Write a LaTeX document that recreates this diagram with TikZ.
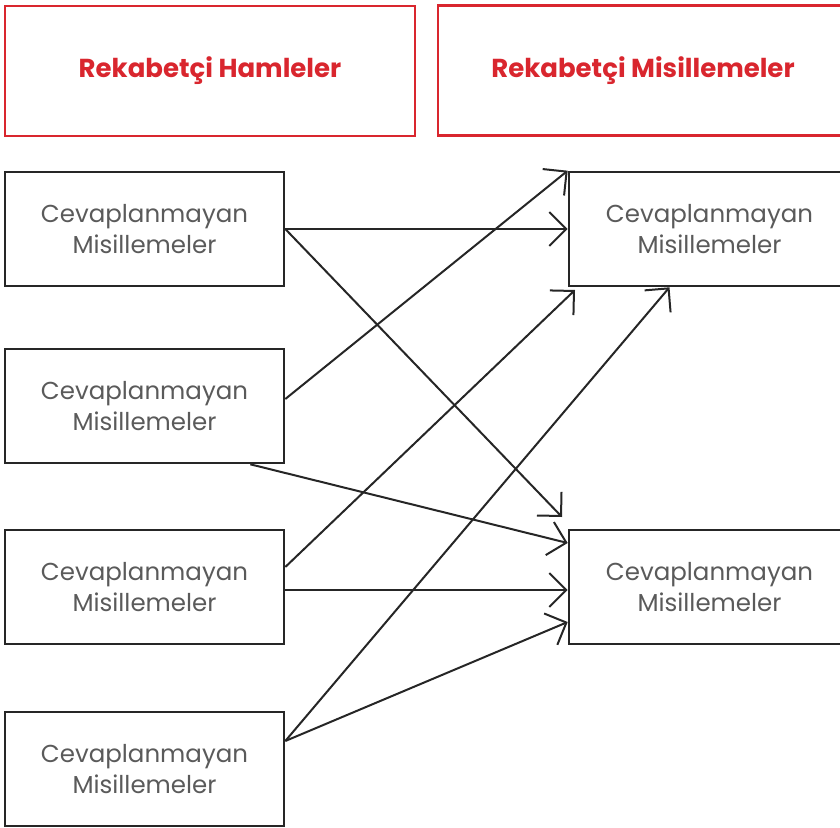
\documentclass[tikz,border=0pt]{standalone}
\usepackage{fontspec}
\setmainfont{Poppins}
\usetikzlibrary{arrows.meta}

\definecolor{hdred}{HTML}{D9262E}
\definecolor{txtgray}{HTML}{5A5A5A}

\tikzset{
  head/.style={draw=hdred, line width=2.6pt, minimum width=410pt, minimum height=130pt,
    text=hdred, font=\fontsize{26}{30}\selectfont\bfseries},
  move/.style={draw=black!85, line width=2.6pt, minimum width=279pt, minimum height=114pt,
    text=txtgray, align=center, font=\fontsize{24.5}{31}\selectfont},
  reply/.style={move, minimum width=281pt},
  link/.style={line width=2pt, black!85, -{Straight Barb[length=17pt,width=34pt,line width=2pt]}}
}

\begin{document}
\begin{tikzpicture}[x=1pt, y=-1pt]
  \useasboundingbox (0,0) rectangle (840,827);
  % basliklar
  \node[head] (hamle) at (210,71) {Rekabetçi Hamleler};
  \node[head] (misilleme) at (643,70.5) {Rekabetçi Misillemeler};
  % sol sutun
  \node[move] (one) at (144.5,229) {Cevaplanmayan\\Misillemeler};
  \node[move] (two) at (144.5,406) {Cevaplanmayan\\Misillemeler};
  \node[move] (three) at (144.5,587) {Cevaplanmayan\\Misillemeler};
  \node[move] (four) at (144.5,769) {Cevaplanmayan\\Misillemeler};
  % sag sutun
  \node[reply] (top) at (709.5,229) {Cevaplanmayan\\Misillemeler};
  \node[reply] (bottom) at (709.5,587) {Cevaplanmayan\\Misillemeler};
  \coordinate (short) at (562,517);
  \coordinate (corner) at (575,290);
  \draw[link] (one.east) -- (top.west);
  \draw[link] (one.east) -- (short);
  \draw[link] ([yshift=7pt]two.east) -- (top.north west);
  \draw[link] ([xshift=-35pt]two.south east) -- ([yshift=44pt]bottom.west);
  \draw[link] ([yshift=20pt]three.east) -- (corner);
  \draw[link] ([yshift=-3pt]three.east) -- ([yshift=-3pt]bottom.west);
  \draw[link] ([yshift=28pt]four.east) -- ([xshift=-40pt]top.south);
  \draw[link] ([yshift=28pt]four.east) -- ([yshift=-35pt]bottom.west);
\end{tikzpicture}
\end{document}
